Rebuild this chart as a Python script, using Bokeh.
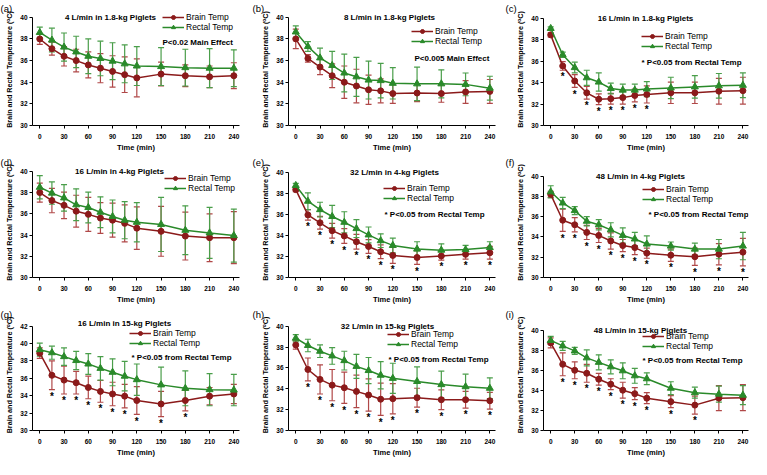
from bokeh.plotting import figure
from bokeh.models import (ColumnDataSource, Whisker, TeeHead, Legend, LegendItem,
                          Label, FixedTicker)
from bokeh.layouts import column, row
from bokeh.embed import file_html
from bokeh.resources import INLINE
from bokeh.core.properties import value

# ---------------- data ----------------
time_min = [0, 15, 30, 45, 60, 75, 90, 105, 120, 150, 180, 210, 240]
x_ticks = [0, 30, 60, 90, 120, 150, 180, 210, 240]

a_brain = [38.0, 37.1, 36.4, 36.0, 35.6, 35.3, 35.0, 34.7, 34.4, 34.75, 34.6, 34.5, 34.6]
a_brain_sd = [0.5, 0.6, 0.9, 1.05, 1.2, 1.35, 1.45, 1.65, 1.75, 1.1, 1.0, 1.0, 1.2]
a_rectal = [38.6, 37.9, 37.25, 36.8, 36.4, 36.2, 35.95, 35.7, 35.5, 35.45, 35.35, 35.3, 35.3]
a_rectal_sd = [0.5, 1.1, 1.3, 1.45, 1.6, 1.6, 1.7, 1.75, 1.8, 1.75, 1.7, 1.8, 1.7]

b_brain = [38.0, 36.2, 35.4, 34.6, 34.0, 33.65, 33.3, 33.2, 32.95, 33.0, 32.95, 33.1, 33.15]
b_brain_sd = [0.9, 0.35, 0.7, 1.1, 1.5, 1.55, 1.35, 1.1, 0.9, 0.8, 0.8, 1.05, 1.1]
b_rectal = [38.65, 37.3, 36.25, 35.55, 34.85, 34.5, 34.2, 34.15, 33.9, 33.85, 33.85, 33.8, 33.45]
b_rectal_sd = [0.55, 0.45, 0.9, 1.3, 1.75, 1.8, 1.75, 1.6, 1.45, 1.55, 1.3, 1.05, 1.1]

c_brain = [38.45, 35.55, 34.15, 33.05, 32.45, 32.5, 32.6, 32.8, 32.9, 33.05, 33.05, 33.2, 33.25]
c_brain_sd = [0.2, 0.4, 0.6, 0.6, 0.5, 0.5, 0.6, 0.6, 0.8, 1.0, 1.0, 1.2, 1.25]
c_rectal = [39.05, 36.6, 35.4, 34.45, 34.05, 33.45, 33.3, 33.3, 33.4, 33.5, 33.6, 33.7, 33.75]
c_rectal_sd = [0.15, 0.25, 0.5, 0.7, 0.85, 0.5, 0.55, 0.55, 0.7, 1.0, 1.05, 1.15, 1.15]
c_stars = [15, 30, 45, 60, 75, 90, 105, 120]

d_brain = [38.0, 37.25, 36.8, 36.25, 35.95, 35.6, 35.4, 35.1, 34.65, 34.35, 33.9, 33.75, 33.75]
d_brain_sd = [0.9, 1.15, 1.25, 1.5, 1.6, 1.45, 1.6, 1.75, 2.0, 2.35, 2.25, 2.25, 2.45]
d_rectal = [38.5, 37.95, 37.5, 36.85, 36.6, 36.15, 35.75, 35.4, 35.2, 35.0, 34.45, 34.2, 33.95]
d_rectal_sd = [1.1, 1.05, 1.25, 1.5, 1.45, 1.45, 1.55, 1.75, 1.85, 2.55, 2.3, 2.4, 2.5]

e_brain = [38.35, 35.95, 35.2, 34.45, 33.95, 33.4, 32.95, 32.45, 32.1, 31.9, 32.05, 32.2, 32.35]
e_brain_sd = [0.2, 0.5, 0.6, 0.7, 0.7, 0.7, 0.65, 0.65, 0.75, 0.65, 0.4, 0.45, 0.6]
e_rectal = [38.75, 37.25, 36.45, 35.8, 35.25, 34.65, 34.05, 33.5, 33.05, 32.7, 32.6, 32.65, 32.85]
e_rectal_sd = [0.2, 0.8, 0.7, 1.05, 1.0, 0.85, 0.75, 0.65, 0.7, 0.7, 0.6, 0.4, 0.55]
e_stars = [15, 30, 45, 60, 75, 90, 105, 120, 150, 180, 210, 240]

f_brain = [38.2, 35.65, 35.2, 34.45, 34.15, 33.6, 33.15, 32.95, 32.4, 32.2, 32.05, 32.3, 32.5]
f_brain_sd = [0.3, 1.1, 0.7, 0.7, 0.7, 0.8, 0.6, 0.7, 0.5, 0.6, 0.85, 1.05, 1.35]
f_rectal = [38.45, 37.35, 36.6, 35.55, 35.2, 34.7, 34.15, 33.8, 33.3, 33.1, 32.8, 32.8, 33.1]
f_rectal_sd = [0.6, 0.55, 0.4, 0.45, 0.5, 0.7, 0.75, 0.65, 0.8, 0.4, 0.6, 0.95, 1.35]
f_stars = [15, 30, 45, 60, 75, 90, 105, 120, 150, 180, 210, 240]

g_brain = [38.9, 36.35, 35.8, 35.5, 34.95, 34.5, 34.2, 33.95, 33.45, 33.05, 33.45, 33.95, 34.2]
g_brain_sd = [0.6, 1.65, 1.6, 1.3, 1.3, 1.25, 1.35, 1.35, 1.6, 1.45, 1.2, 1.0, 1.1]
g_rectal = [39.3, 38.95, 38.5, 38.05, 37.65, 37.15, 36.7, 36.25, 35.85, 35.25, 34.85, 34.7, 34.65]
g_rectal_sd = [0.75, 0.75, 1.0, 1.05, 1.2, 1.35, 1.55, 1.7, 1.8, 2.05, 2.0, 1.85, 1.8]
g_stars = [15, 30, 45, 60, 75, 90, 105, 120, 150, 180]

h_brain = [38.2, 35.85, 34.9, 34.35, 34.1, 33.75, 33.4, 33.0, 33.05, 33.15, 32.95, 32.95, 32.85]
h_brain_sd = [0.4, 1.1, 1.4, 1.5, 1.5, 1.55, 1.55, 1.55, 1.45, 0.9, 0.95, 0.8, 0.8]
h_rectal = [38.85, 38.15, 37.6, 37.15, 36.7, 36.15, 35.75, 35.3, 35.0, 34.7, 34.4, 34.2, 34.05]
h_rectal_sd = [0.35, 0.6, 0.6, 0.8, 0.9, 1.15, 1.25, 1.3, 1.45, 1.4, 1.3, 1.2, 1.0]
h_stars = [15, 30, 45, 60, 75, 90, 105, 120, 150, 180, 210, 240]

i_brain = [38.8, 36.65, 36.05, 35.75, 35.15, 34.65, 34.05, 33.7, 33.25, 32.9, 32.55, 33.25, 33.3]
i_brain_sd = [0.5, 1.15, 0.85, 0.9, 0.6, 0.55, 0.8, 0.6, 0.55, 0.6, 0.9, 1.25, 1.3]
i_rectal = [39.05, 38.5, 38.0, 37.3, 36.85, 36.4, 36.0, 35.5, 35.2, 34.25, 33.8, 33.65, 33.55]
i_rectal_sd = [0.4, 0.45, 0.35, 0.8, 0.75, 0.7, 0.8, 0.75, 0.6, 0.65, 0.55, 0.8, 0.95]
i_stars = [15, 30, 45, 60, 75, 90, 105, 120, 150, 180]

y_ticks_40 = [30, 32, 34, 36, 38, 40]
y_ticks_42 = [30, 32, 34, 36, 38, 40, 42]

NOTE_MAIN_02 = "P<0.02 Main Effect"
NOTE_MAIN_005 = "P<0.005 Main Effect"
NOTE_STAR = "* P<0.05 from Rectal Temp"

panels = [
    dict(letter="(a)", title="4 L/min in 1.8-kg Piglets", brain=a_brain, brain_sd=a_brain_sd,
         rectal=a_rectal, rectal_sd=a_rectal_sd, stars=[], note=NOTE_MAIN_02, yticks=y_ticks_40),
    dict(letter="(b)", title="8 L/min in 1.8-kg Piglets", brain=b_brain, brain_sd=b_brain_sd,
         rectal=b_rectal, rectal_sd=b_rectal_sd, stars=[], note=NOTE_MAIN_005, yticks=y_ticks_40),
    dict(letter="(c)", title="16 L/min in 1.8-kg Piglets", brain=c_brain, brain_sd=c_brain_sd,
         rectal=c_rectal, rectal_sd=c_rectal_sd, stars=c_stars, note=NOTE_STAR, yticks=y_ticks_40),
    dict(letter="(d)", title="16 L/min in 4-kg Piglets", brain=d_brain, brain_sd=d_brain_sd,
         rectal=d_rectal, rectal_sd=d_rectal_sd, stars=[], note=None, yticks=y_ticks_40),
    dict(letter="(e)", title="32 L/min in 4-kg Piglets", brain=e_brain, brain_sd=e_brain_sd,
         rectal=e_rectal, rectal_sd=e_rectal_sd, stars=e_stars, note=NOTE_STAR, yticks=y_ticks_40),
    dict(letter="(f)", title="48 L/min in 4-kg Piglets", brain=f_brain, brain_sd=f_brain_sd,
         rectal=f_rectal, rectal_sd=f_rectal_sd, stars=f_stars, note=NOTE_STAR, yticks=y_ticks_40),
    dict(letter="(g)", title="16 L/min in 15-kg Piglets", brain=g_brain, brain_sd=g_brain_sd,
         rectal=g_rectal, rectal_sd=g_rectal_sd, stars=g_stars, note=NOTE_STAR, yticks=y_ticks_42),
    dict(letter="(h)", title="32 L/min in 15-kg Piglets", brain=h_brain, brain_sd=h_brain_sd,
         rectal=h_rectal, rectal_sd=h_rectal_sd, stars=h_stars, note=NOTE_STAR, yticks=y_ticks_40),
    dict(letter="(i)", title="48 L/min in 15-kg Piglets", brain=i_brain, brain_sd=i_brain_sd,
         rectal=i_rectal, rectal_sd=i_rectal_sd, stars=i_stars, note=NOTE_STAR, yticks=y_ticks_40),
]

# ---------------- layout (pixels) ----------------
COL_W = [252, 252, 247]
COL_LEFT = [32, 36, 39]
COL_RIGHT = [13, 9, 3]
LETTER_DX = [-32, -36, -38]
ROW_H = [154, 152, 153]
TOP = 11
# ext: gap between frame top and top tick; positions below are relative to the top tick
LAY = [
    dict(ext=4, bot=26, tx=78, tdy=0, lx=130, r1=5, nx=130, ny=25),
    dict(ext=4, bot=25, tx=101, tdy=0, lx=123, r1=20, nx=126, ny=41),
    dict(ext=5, bot=25, tx=102, tdy=0, lx=98, r1=24, nx=98, ny=44),
    dict(ext=4, bot=27, tx=87, tdy=0, lx=132, r1=11, nx=0, ny=0),
    dict(ext=5, bot=26, tx=106, tdy=0, lx=95, r1=21, nx=96, ny=42),
    dict(ext=9, bot=26, tx=97, tdy=0, lx=99, r1=18, nx=105, ny=38),
    dict(ext=7, bot=26, tx=92, tdy=3, lx=97, r1=12, nx=99, ny=31),
    dict(ext=7, bot=26, tx=99, tdy=0, lx=99, r1=13, nx=100, ny=33),
    dict(ext=12, bot=26, tx=97, tdy=0, lx=99, r1=10, nx=99, ny=30),
]

FONT = "Liberation Sans"
BR = "#8b1a1a"
RE = "#2a8a2a"
BR_ERR = "#b04848"
RE_ERR = "#4a9e4a"
X_START, X_END = -9, 247


def make_panel(k):
    spec = panels[k]
    lay = LAY[k]
    c = k % 3
    r = k // 3
    w, h = COL_W[c], ROW_H[r]
    ymax = spec["yticks"][-1]
    ymin = spec["yticks"][0]
    frame_h = h - TOP - lay["bot"]
    ppd = (frame_h - lay["ext"]) / (ymax - ymin)
    y_end = ymax + lay["ext"] / ppd
    p = figure(width=w, height=h, x_range=(X_START, X_END), y_range=(ymin, y_end),
               output_backend="svg", toolbar_location=None,
               min_border_left=COL_LEFT[c], min_border_right=COL_RIGHT[c],
               min_border_top=TOP, min_border_bottom=lay["bot"])
    p.outline_line_color = None
    p.background_fill_color = "white"
    p.xgrid.visible = False
    p.ygrid.visible = False
    p.xaxis.ticker = FixedTicker(ticks=x_ticks)
    p.yaxis.ticker = FixedTicker(ticks=spec["yticks"])
    p.yaxis.bounds = (ymin, ymax)
    p.xaxis.axis_label = "Time (min)"
    p.yaxis.axis_label = "Brain and Rectal Temperature (\u1d52C)"
    for ax in (p.xaxis, p.yaxis):
        ax.axis_line_color = "black"
        ax.axis_line_width = 1
        ax.major_tick_line_color = "black"
        ax.major_tick_out = 3
        ax.major_tick_in = 0
        ax.minor_tick_line_color = None
        ax.major_label_text_font = FONT
        ax.major_label_text_font_style = "bold"
        ax.major_label_text_font_size = "6.5px"
        ax.major_label_text_color = "black"
        ax.axis_label_text_font = FONT
        ax.axis_label_text_font_style = "bold"
        ax.axis_label_text_color = "black"
    p.xaxis.axis_label_text_font_size = "7.5px"
    p.yaxis.axis_label_text_font_size = "7.2px"
    p.xaxis.major_label_standoff = 5
    p.xaxis.axis_label_standoff = 1
    p.yaxis.major_label_standoff = 2
    p.yaxis.axis_label_standoff = 3

    # panel letter as the figure title (outside the frame)
    p.title.text = spec["letter"]
    p.title.align = "left"
    p.title.offset = LETTER_DX[c]
    p.title.standoff = 0
    p.title.text_font = FONT
    p.title.text_font_size = "9.5px"
    p.title.text_font_style = "normal"
    p.title.text_color = "black"

    brain, bsd = spec["brain"], spec["brain_sd"]
    rect, rsd = spec["rectal"], spec["rectal_sd"]
    src_b = ColumnDataSource(dict(x=time_min, y=brain,
                                  lo=[v - e for v, e in zip(brain, bsd)],
                                  hi=[v + e for v, e in zip(brain, bsd)]))
    src_r = ColumnDataSource(dict(x=time_min, y=rect,
                                  lo=[v - e for v, e in zip(rect, rsd)],
                                  hi=[v + e for v, e in zip(rect, rsd)]))
    for src, col in ((src_b, BR_ERR), (src_r, RE_ERR)):
        wk = Whisker(source=src, base="x", lower="lo", upper="hi",
                     line_color=col, line_width=1.2, level="underlay",
                     upper_head=TeeHead(size=6, line_color=col, line_width=1.2),
                     lower_head=TeeHead(size=6, line_color=col, line_width=1.2))
        p.add_layout(wk)

    lb = p.line("x", "y", source=src_b, line_color=BR, line_width=1.5)
    cb = p.scatter("x", "y", source=src_b, marker="circle", size=6,
                   fill_color=BR, line_color=BR)
    lr = p.line("x", "y", source=src_r, line_color=RE, line_width=1.5)
    tr = p.scatter("x", "y", source=src_r, marker="triangle", size=7,
                   fill_color=RE, line_color=RE)

    # significance stars below the brain error bars
    if spec["stars"]:
        sx, sy = [], []
        for t in spec["stars"]:
            i = time_min.index(t)
            sx.append(t)
            sy.append(brain[i] - bsd[i] - 7.0 / ppd)
        p.text(x=sx, y=sy, text=["*"] * len(sx), text_font=value(FONT),
               text_font_size="10px", text_font_style="bold", text_color="black",
               text_align="center", text_baseline="middle")

    # legend (location = bottom-left corner in frame pixels)
    leg_h = 20
    top_rel = lay["ext"] + lay["r1"] - 5
    vy = frame_h - top_rel - leg_h
    leg = Legend(items=[LegendItem(label="Brain Temp", renderers=[lb, cb]),
                        LegendItem(label="Rectal Temp", renderers=[lr, tr])],
                 location=(lay["lx"], vy), orientation="vertical",
                 glyph_width=22, glyph_height=10, label_height=10, label_standoff=2,
                 spacing=0, padding=0, margin=0,
                 label_text_font=FONT, label_text_font_size="8.5px",
                 label_text_color="black", label_text_baseline="middle",
                 border_line_color=None, background_fill_alpha=0)
    p.add_layout(leg)

    if spec["note"]:
        p.add_layout(Label(x=X_START, y=ymax, x_offset=lay["nx"], y_offset=-lay["ny"],
                           text=spec["note"], text_font=FONT, text_font_size="8px",
                           text_font_style="bold", text_color="black",
                           text_align="left", text_baseline="middle"))

    # panel heading, centred on the top tick level
    p.add_layout(Label(x=X_START, y=ymax, x_offset=lay["tx"], y_offset=lay["tdy"],
                       text=spec["title"], text_font=FONT, text_font_size="8px",
                       text_font_style="bold", text_color="black",
                       text_align="center", text_baseline="middle"))
    return p


figs = [make_panel(k) for k in range(9)]
layout = column(row(*figs[0:3]), row(*figs[3:6]), row(*figs[6:9]))

open("out.html", "w").write(file_html(layout, INLINE))
